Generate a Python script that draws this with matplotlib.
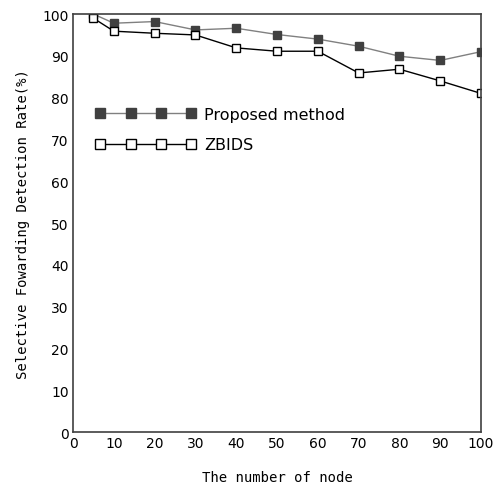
import matplotlib
matplotlib.use('Agg')
import matplotlib.pyplot as plt

# data
nodes = [5, 10, 20, 30, 40, 50, 60, 70, 80, 90, 100]
proposed = [100, 97.8, 98.2, 96.2, 96.6, 95.1, 94.0, 92.3, 89.9, 88.9, 91.0]
zbids = [99.0, 95.9, 95.4, 95.0, 91.9, 91.1, 91.1, 85.9, 86.8, 84.0, 81.0]
xticks = list(range(0, 101, 10))
yticks = list(range(0, 101, 10))

fig = plt.figure(figsize=(4.98, 4.85), dpi=100)
ax = fig.add_axes([0.1466, 0.1072, 0.966 - 0.1466, 0.969 - 0.1072])

ax.plot(nodes, proposed, color='#808080', lw=1.0, marker='s', ms=6,
        markerfacecolor='#404040', markeredgecolor='#404040', label='Proposed method')
ax.plot(nodes, zbids, color='black', lw=1.0, marker='s', ms=5.5,
        markerfacecolor='white', markeredgecolor='black', markeredgewidth=1.0, label='ZBIDS')

ax.set_xlim(0, 100)
ax.set_ylim(0, 100)
ax.set_xticks(xticks)
ax.set_yticks(yticks)
ax.tick_params(length=0, labelsize=10, pad=3)
for s in ax.spines.values():
    s.set_color('#404040')
    s.set_linewidth(1.2)

ax.set_xlabel('The number of node', family='DejaVu Sans Mono', fontsize=10, labelpad=14)
ax.set_ylabel('Selective Fowarding Detection Rate(%)', family='DejaVu Sans Mono',
              fontsize=10, labelpad=9)

leg = ax.legend(loc='upper left', bbox_to_anchor=(0.02, 0.812), numpoints=4,
                handlelength=6.3, frameon=False, fontsize=11.5, labelspacing=0.95,
                handletextpad=0.5, markerscale=1.25)

fig.savefig('out.png', dpi=100, facecolor='white')
